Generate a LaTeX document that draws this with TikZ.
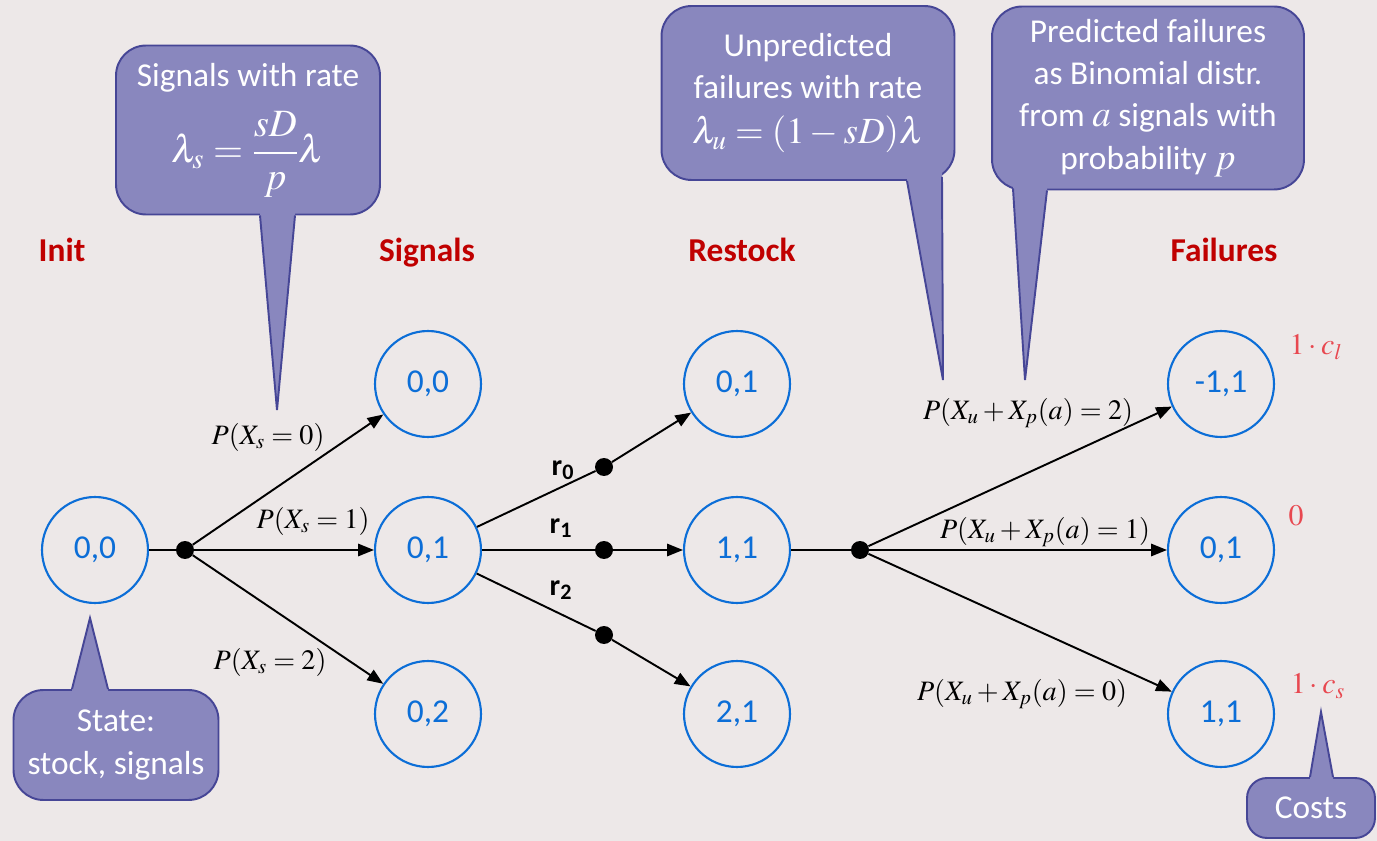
\documentclass[tikz,border=0pt]{standalone}
\usepackage{amsmath}
\usepackage{mathptmx}
\usepackage{fontspec}
\setmainfont{Carlito}
\usetikzlibrary{arrows.meta,positioning,calc}

\definecolor{bgcol}{RGB}{237,232,232}
\definecolor{statecol}{RGB}{12,110,215}
\definecolor{callfill}{RGB}{137,135,190}
\definecolor{callline}{RGB}{70,70,150}
\definecolor{headred}{RGB}{192,0,0}
\definecolor{costred}{RGB}{232,72,80}

\begin{document}
\begin{tikzpicture}[
x=0.02cm, y=-0.02cm,
state/.style={
    draw=statecol,
    circle,
    line width=1.2pt,
    minimum size=2.12cm,
    text=statecol,
    font=\fontsize{19}{22}\selectfont
},
junction/.style={circle, fill=black, inner sep=0pt, minimum size=0.36cm},
arrow/.style={-{Triangle[length=9pt,width=7pt]}, line width=1.1pt},
link/.style={line width=1.1pt},
prob/.style={font=\fontsize{16}{19}\selectfont, inner sep=1pt},
rlabel/.style={font=\fontsize{17}{20}\selectfont\bfseries, inner sep=1pt},
header/.style={text=headred, anchor=base, font=\fontsize{19}{22}\selectfont\bfseries},
cost/.style={text=costred, font=\fontsize{17}{20}\selectfont},
callbox/.style={
    draw=callline,
    fill=callfill,
    line width=1.1pt,
    rounded corners=0.6cm,
    text=white,
    align=center,
    font=\fontsize{19}{24}\selectfont
},
pointer/.style={draw=callline, line width=1.1pt, line join=miter}
]

\useasboundingbox[fill=bgcol] (0,0) rectangle (1377,841);

% column headers
\node[header] (hinit) at (62,262) {Init};
\node[header] (hsig) at (427,262) {Signals};
\node[header] (hrst) at (742,262) {Restock};
\node[header] (hfail) at (1224,262) {Failures};

% states
\node[state] (init) at (95,550) {0,0};
\node[state] (sig0) at (428,384) {0,0};
\node[state] (sig1) at (428,550) {0,1};
\node[state] (sig2) at (428,714) {0,2};
\node[state] (rst0) at (737,384) {0,1};
\node[state] (rst1) at (737,550) {1,1};
\node[state] (rst2) at (737,714) {2,1};
\node[state] (fail0) at (1221,384) {-1,1};
\node[state] (fail1) at (1221,550) {0,1};
\node[state] (fail2) at (1221,714) {1,1};

% chance points
\node[junction] (jinit) at (185,550) {};
\node[junction] (jr0) at (604,467) {};
\node[junction] (jr1) at (604,550) {};
\node[junction] (jr2) at (604,635) {};
\node[junction] (jfail) at (860,550) {};

\draw[link] (init) -- (jinit);
\draw[arrow] (jinit) -- (sig0);
\draw[arrow] (jinit) -- (sig1);
\draw[arrow] (jinit) -- (sig2);

\draw[link] (sig1) -- (jr0);
\draw[link] (sig1) -- (jr1);
\draw[link] (sig1) -- (jr2);
\draw[arrow] (jr0) -- (rst0);
\draw[arrow] (jr1) -- (rst1);
\draw[arrow] (jr2) -- (rst2);

\draw[link] (rst1) -- (jfail);
\draw[arrow] (jfail) -- (fail0);
\draw[arrow] (jfail) -- (fail1);
\draw[arrow] (jfail) -- (fail2);

% transition labels
\node[prob] (pxs0) at (268,437) {$P(X_s=0)$};
\node[prob] (pxs1) at (313,521) {$P(X_s=1)$};
\node[prob] (pxs2) at (270,662) {$P(X_s=2)$};
\node[rlabel] (lr0) at (563,470) {r\textsubscript{0}};
\node[rlabel] (lr1) at (561,528) {r\textsubscript{1}};
\node[rlabel] (lr2) at (561,590) {r\textsubscript{2}};
\node[prob] (pf2) at (1028,413) {$P(X_u+X_p(a)=2)$};
\node[prob] (pf1) at (1045,532) {$P(X_u+X_p(a)=1)$};
\node[prob] (pf0) at (1022,694) {$P(X_u+X_p(a)=0)$};

% costs
\node[cost] (cl) at (1316,347) {$1\cdot c_l$};
\node[cost] (cz) at (1296,516) {$0$};
\node[cost] (cs) at (1318,686) {$1\cdot c_s$};

% callouts
\node[callbox, minimum width=5.28cm, minimum height=3.38cm] (sigcall) at (248,130)
  {Signals with rate\\[10pt] {\fontsize{22}{24}\selectfont$\displaystyle{\lambda}_s=\frac{sD}{p}\lambda$}};
\fill[callfill] ($(sigcall.south)+(12,-6)$) -- ($(sigcall.south)+(12,0)$) -- (277,410)
  -- ($(sigcall.south)+(47,0)$) -- ($(sigcall.south)+(47,-6)$) -- cycle;
\draw[pointer] ($(sigcall.south)+(12,0)$) -- (277,410) -- ($(sigcall.south)+(47,0)$);

\node[callbox, minimum width=5.86cm, minimum height=3.48cm] (unpcall) at (808,93)
  {Unpredicted\\ failures with rate\\[2pt] {\fontsize{21}{24}\selectfont${\lambda}_u=(1-sD)\lambda$}};
\fill[callfill] ($(unpcall.south)+(99,-8)$) -- ($(unpcall.south)+(99,0)$) -- (943,380)
  -- ($(unpcall.south)+(134,-4)$) -- ($(unpcall.south)+(134,-10)$) -- cycle;
\draw[pointer] ($(unpcall.south)+(99,0)$) -- (943,380) -- ($(unpcall.south)+(134,-4)$);

\node[callbox, minimum width=6.24cm, minimum height=3.66cm] (predcall) at (1148,98)
  {Predicted failures\\ as Binomial distr.\\ from {\fontsize{21}{24}\selectfont$a$} signals with\\ probability {\fontsize{21}{24}\selectfont$p$}};
\fill[callfill] ($(predcall.south)+(-135,-10)$) -- ($(predcall.south)+(-135,-2)$) -- (1025,380)
  -- ($(predcall.south)+(-101,0)$) -- ($(predcall.south)+(-101,-8)$) -- cycle;
\draw[pointer] ($(predcall.south)+(-135,-2)$) -- (1025,380) -- ($(predcall.south)+(-101,0)$);

\node[callbox, minimum width=4.1cm, minimum height=2.2cm] (statecall) at (116,745)
  {State:\\ stock, signals};
\fill[callfill] ($(statecall.north)+(-44,6)$) -- ($(statecall.north)+(-44,0)$) -- (90,618)
  -- ($(statecall.north)+(-8,0)$) -- ($(statecall.north)+(-8,6)$) -- cycle;
\draw[pointer] ($(statecall.north)+(-44,0)$) -- (90,618) -- ($(statecall.north)+(-8,0)$);

\node[callbox, rounded corners=0.4cm, minimum width=2.56cm, minimum height=1.2cm] (costcall) at (1311,808)
  {Costs};
\fill[callfill] ($(costcall.north)+(-1,6)$) -- ($(costcall.north)+(-1,0)$) -- (1321,712)
  -- ($(costcall.north)+(22,0)$) -- ($(costcall.north)+(22,6)$) -- cycle;
\draw[pointer] ($(costcall.north)+(-1,0)$) -- (1321,712) -- ($(costcall.north)+(22,0)$);

\end{tikzpicture}
\end{document}
